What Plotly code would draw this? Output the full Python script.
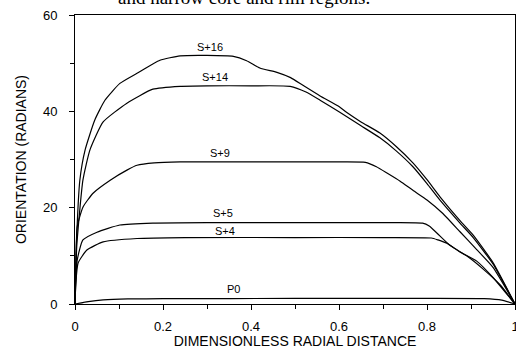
import plotly.graph_objects as go

# ---- data ----
s16_x = [0, 0.003, 0.011, 0.023, 0.045, 0.068, 0.102, 0.141, 0.193, 0.239, 0.30, 0.36, 0.39, 0.42, 0.459, 0.49, 0.518, 0.557, 0.60, 0.617, 0.65, 0.693, 0.73, 0.768, 0.80, 0.83, 0.875, 0.905, 0.95, 1.0]
s16_y = [0, 12, 25.7, 32, 38.2, 42.3, 45.8, 47.9, 50.6, 51.5, 51.6, 51.4, 50.5, 49.0, 48.1, 47.0, 45.4, 43.2, 41.0, 39.8, 37.8, 35.5, 32.7, 29.3, 25.8, 22.2, 17.3, 14.3, 8.6, 0]

s14_x = [0, 0.004, 0.018, 0.034, 0.064, 0.118, 0.177, 0.239, 0.30, 0.40, 0.489, 0.525, 0.557, 0.60, 0.65, 0.693, 0.73, 0.768, 0.80, 0.83, 0.875, 0.905, 0.95, 1.0]
s14_y = [0, 12, 25.7, 32, 37.8, 41.7, 44.6, 45.2, 45.3, 45.3, 45.2, 44.0, 42.3, 39.9, 37.0, 34.5, 31.8, 28.5, 25.0, 21.5, 16.8, 13.8, 8.3, 0]

s9_x = [0, 0.002, 0.005, 0.018, 0.041, 0.08, 0.118, 0.141, 0.18, 0.239, 0.40, 0.60, 0.66, 0.685, 0.709, 0.739, 0.768, 0.80, 0.836, 0.875, 0.913, 0.95, 1.0]
s9_y = [0, 8, 16, 20.1, 23, 25.7, 27.8, 28.8, 29.3, 29.5, 29.5, 29.5, 29.4, 28.5, 27.2, 25.5, 23.6, 21.6, 18.8, 15.0, 11.3, 7.6, 0]

s5_x = [0, 0.002, 0.005, 0.018, 0.05, 0.102, 0.177, 0.30, 0.50, 0.70, 0.79, 0.805, 0.823, 0.852, 0.89, 0.927, 0.966, 1.0]
s5_y = [0, 5, 9.1, 13.3, 14.9, 16.4, 16.8, 16.9, 16.9, 16.9, 16.8, 16.2, 14.7, 12.2, 10.0, 7.3, 4.0, 0]

s4_x = [0, 0.002, 0.007, 0.027, 0.064, 0.141, 0.25, 0.50, 0.70, 0.81, 0.825, 0.845, 0.875, 0.913, 0.95, 1.0]
s4_y = [0, 4.5, 8.5, 11.2, 12.9, 13.6, 13.8, 13.8, 13.8, 13.7, 13.3, 12.6, 10.8, 8.9, 5.5, 0]

p0_x = [0, 0.03, 0.064, 0.12, 0.2, 0.5, 0.8, 0.93, 0.97, 1.0]
p0_y = [0, 0.5, 0.85, 1.05, 1.1, 1.15, 1.15, 1.1, 0.8, 0]

series_names = ["S+16", "S+14", "S+9", "S+5", "S+4", "P0"]
series_x = [s16_x, s14_x, s9_x, s5_x, s4_x, p0_x]
series_y = [s16_y, s14_y, s9_y, s5_y, s4_y, p0_y]

label_x = [0.307, 0.318, 0.33, 0.337, 0.34, 0.36]
label_y = [53.3, 47.1, 31.3, 18.9, 15.2, 3.1]

x_ticks = [0, 0.2, 0.4, 0.6, 0.8, 1]
y_ticks = [0, 20, 40, 60]

caption = "and narrow core and rim regions."

FONT = "Liberation Sans, Arial, sans-serif"

fig = go.Figure()
for name, xs, ys in zip(series_names, series_x, series_y):
    fig.add_trace(go.Scatter(x=xs, y=ys, mode="lines", name=name,
                             line=dict(color="black", width=1.2, shape="spline", smoothing=0.5),
                             showlegend=False, hoverinfo="skip"))

for name, lx, ly in zip(series_names, label_x, label_y):
    fig.add_annotation(x=lx, y=ly, text=name, showarrow=False,
                       font=dict(family=FONT, size=11, color="black"),
                       xanchor="center", yanchor="middle")

fig.add_annotation(xref="paper", yref="paper", x=0.675, y=1.017, text=caption,
                   showarrow=False, xanchor="right", yanchor="bottom",
                   font=dict(family="Liberation Serif, Times New Roman, serif", size=19, color="black"))

axis_common = dict(showline=True, linecolor="black", linewidth=1, mirror=True,
                   ticks="outside", ticklen=5, tickcolor="black", tickwidth=1,
                   showgrid=False, zeroline=False, ticklabeloverflow="allow",
                   tickfont=dict(family=FONT, size=13, color="black"))

fig.update_xaxes(range=[0, 1], tickvals=x_ticks, ticktext=[str(v) for v in x_ticks],
                 ticklabelstandoff=5,
                 minor=dict(ticks="outside", ticklen=4, tickcolor="black", dtick=0.1, showgrid=False),
                 title=dict(text="DIMENSIONLESS RADIAL DISTANCE", font=dict(family=FONT, size=14, color="black"), standoff=4),
                 **axis_common)
fig.update_yaxes(range=[0, 60], tickvals=y_ticks, ticktext=[str(v) for v in y_ticks],
                 ticklabelstandoff=9,
                 minor=dict(ticks="outside", ticklen=4, tickcolor="black", dtick=10, showgrid=False),
                 title=dict(text="ORIENTATION (RADIANS)", font=dict(family=FONT, size=14, color="black"), standoff=13),
                 **axis_common)

fig.update_layout(width=516, height=349, margin=dict(l=75, r=1, t=15, b=45, autoexpand=False),
                  plot_bgcolor="white", paper_bgcolor="white")

fig.write_html("out.html", config={"displayModeBar": False},
               post_script="document.body.style.margin='0px';")
